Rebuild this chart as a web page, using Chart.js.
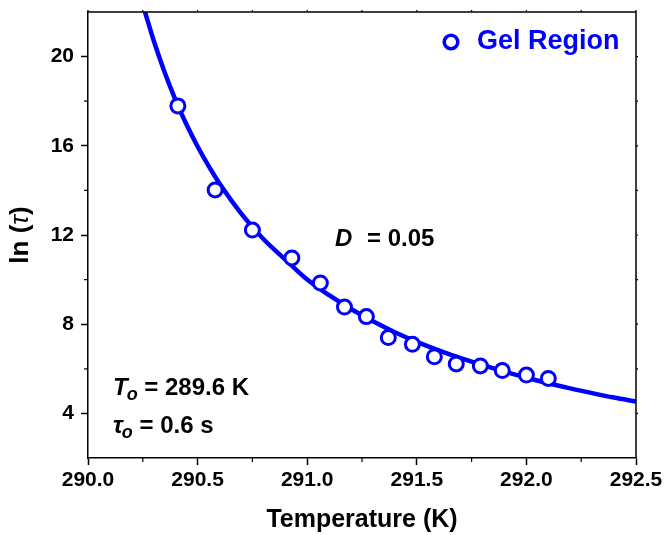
<!DOCTYPE html>
<html>
<head>
<meta charset="utf-8">
<script src="https://cdn.jsdelivr.net/npm/chart.js@4.4.0/dist/chart.umd.min.js"></script>
<style>
  body { margin: 0; background: #fff; }
</style>
</head>
<body>
<canvas id="vftChart" width="664" height="535"></canvas>
<script>
// measured relaxation times, gel region
const tempPoints = [290.41, 290.58, 290.75, 290.93, 291.06, 291.17, 291.27, 291.37, 291.48, 291.58, 291.68, 291.79, 291.89, 292.00, 292.10];
const lnTauPoints = [17.79, 14.02, 12.22, 10.97, 9.85, 8.77, 8.34, 7.40, 7.10, 6.54, 6.22, 6.13, 5.92, 5.72, 5.57];

// fitted curve
const tempCurve = [290.26, 290.30, 290.35, 290.40, 290.45, 290.50, 290.55, 290.60, 290.70, 290.80, 290.90, 291.00, 291.10, 291.20, 291.30, 291.40, 291.50, 291.60, 291.70, 291.80, 291.90, 292.00, 292.10, 292.20, 292.30, 292.40, 292.50];
const lnTauCurve = [22.00, 20.71, 19.29, 18.04, 16.94, 15.97, 15.10, 14.31, 12.95, 11.82, 10.90, 10.00, 9.30, 8.68, 8.13, 7.64, 7.21, 6.83, 6.48, 6.17, 5.87, 5.60, 5.35, 5.12, 4.91, 4.71, 4.53];

// axis ticks
const xTicks = [290.0, 290.5, 291.0, 291.5, 292.0, 292.5];
const xMinorTicks = [290.25, 290.75, 291.25, 291.75, 292.25];
const yTicks = [4, 8, 12, 16, 20];
const yMinorTicks = [6, 10, 14, 18];

const FONT = '"Liberation Sans", Arial, Helvetica, sans-serif';
const BLUE = '#0000ff';

// draws a row of text pieces with different fonts, left to right
function drawRuns(ctx, x, y, runs) {
  let cx = x;
  runs.forEach(r => {
    ctx.font = r.font;
    ctx.fillText(r.text, cx + (r.dx || 0), y + (r.dy || 0));
    cx += ctx.measureText(r.text).width + (r.dx || 0);
  });
  return cx;
}

function runsWidth(ctx, runs) {
  let w = 0;
  runs.forEach(r => { ctx.font = r.font; w += ctx.measureText(r.text).width + (r.dx || 0); });
  return w;
}

const decorPlugin = {
  id: 'decor',
  afterDraw(chart) {
    const ctx = chart.ctx;
    const { left, right, top, bottom } = chart.chartArea;
    const xs = chart.scales.x;
    const ys = chart.scales.y;
    ctx.save();

    // frame top and right
    ctx.strokeStyle = '#000';
    ctx.lineWidth = 1.5;
    ctx.beginPath();
    ctx.moveTo(left, top);
    ctx.lineTo(right, top);
    ctx.lineTo(right, bottom);
    ctx.stroke();

    // minor ticks bottom / left, small ticks top / right
    ctx.lineWidth = 1.2;
    ctx.beginPath();
    xMinorTicks.forEach(v => {
      const px = xs.getPixelForValue(v);
      ctx.moveTo(px, bottom); ctx.lineTo(px, bottom + 4);
    });
    yMinorTicks.forEach(v => {
      const py = ys.getPixelForValue(v);
      ctx.moveTo(left, py); ctx.lineTo(left - 4, py);
    });
    xTicks.concat(xMinorTicks).forEach(v => {
      const px = xs.getPixelForValue(v);
      ctx.moveTo(px, top); ctx.lineTo(px, top - 2);
    });
    yTicks.concat(yMinorTicks).forEach(v => {
      const py = ys.getPixelForValue(v);
      ctx.moveTo(right, py); ctx.lineTo(right + 2, py);
    });
    ctx.stroke();

    // y axis title: ln (tau)
    ctx.fillStyle = '#000';
    ctx.textBaseline = 'middle';
    const yTitle = [
      { text: 'ln (', font: 'bold 26px ' + FONT },
      { text: 'τ', font: 'italic 26px ' + FONT },
      { text: ')', font: 'bold 26px ' + FONT }
    ];
    ctx.save();
    ctx.translate(21, (top + bottom) / 2);
    ctx.rotate(-Math.PI / 2);
    drawRuns(ctx, -runsWidth(ctx, yTitle) / 2, 0, yTitle);
    ctx.restore();

    // legend
    ctx.strokeStyle = BLUE;
    ctx.lineWidth = 3.5;
    ctx.fillStyle = '#fff';
    ctx.beginPath();
    ctx.arc(451, 42, 6.8, 0, Math.PI * 2);
    ctx.fill();
    ctx.stroke();
    ctx.fillStyle = BLUE;
    ctx.font = 'bold 27px ' + FONT;
    ctx.fillText('Gel Region', 477, 42);

    // fit parameters
    ctx.fillStyle = '#000';
    ctx.textBaseline = 'alphabetic';
    ctx.font = 'italic bold 24px ' + FONT;
    ctx.fillText('D', 335, 246);
    ctx.font = 'bold 24px ' + FONT;
    ctx.fillText('= 0.05', 367, 246);

    drawRuns(ctx, 113, 395, [
      { text: 'T', font: 'italic bold 24px ' + FONT },
      { text: 'o', font: 'italic bold 18px ' + FONT, dy: 5, dx: -1 },
      { text: ' = 289.6 K', font: 'bold 24px ' + FONT }
    ]);
    drawRuns(ctx, 113, 433, [
      { text: 'τ', font: 'italic bold 24px ' + FONT },
      { text: 'o', font: 'italic bold 18px ' + FONT, dy: 5, dx: -1 },
      { text: ' = 0.6 s', font: 'bold 24px ' + FONT }
    ]);

    ctx.restore();
  }
};

const ctx = document.getElementById('vftChart').getContext('2d');
new Chart(ctx, {
  type: 'scatter',
  data: {
    datasets: [
      {
        label: 'Gel Region',
        data: tempPoints.map((t, i) => ({ x: t, y: lnTauPoints[i] })),
        pointStyle: 'circle',
        pointRadius: 7,
        pointBorderWidth: 3,
        pointBorderColor: BLUE,
        pointBackgroundColor: '#fff',
        showLine: false
      },
      {
        label: 'Fit',
        data: tempCurve.map((t, i) => ({ x: t, y: lnTauCurve[i] })),
        showLine: true,
        borderColor: BLUE,
        borderWidth: 4.5,
        pointRadius: 0,
        cubicInterpolationMode: 'monotone',
        clip: 0
      }
    ]
  },
  options: {
    responsive: false,
    animation: false,
    layout: { padding: { top: 12, right: 28, left: 0, bottom: 0 } },
    plugins: {
      legend: { display: false },
      tooltip: { enabled: false }
    },
    scales: {
      x: {
        type: 'linear',
        min: 290.0,
        max: 292.5,
        afterBuildTicks: s => { s.ticks = xTicks.map(v => ({ value: v })); },
        afterFit: s => { s.height = 77; s.paddingLeft = 0; s.paddingRight = 0; },
        grid: { drawOnChartArea: false, tickLength: 7, tickWidth: 1.5, tickColor: '#000' },
        border: { display: true, color: '#000', width: 1.5 },
        ticks: {
          color: '#000',
          padding: 3,
          font: { family: FONT, size: 21, weight: 'bold' },
          callback: v => v.toFixed(1)
        },
        title: {
          display: true,
          text: 'Temperature (K)',
          color: '#000',
          font: { family: FONT, size: 25, weight: 'bold' },
          padding: { top: 0, bottom: 0 }
        }
      },
      y: {
        type: 'linear',
        min: 2,
        max: 22,
        afterBuildTicks: s => { s.ticks = yTicks.map(v => ({ value: v })); },
        afterFit: s => { s.width = 88; s.paddingTop = 0; s.paddingBottom = 0; },
        grid: { drawOnChartArea: false, tickLength: 7, tickWidth: 1.5, tickColor: '#000' },
        border: { display: true, color: '#000', width: 1.5 },
        ticks: {
          color: '#000',
          padding: 7,
          font: { family: FONT, size: 21, weight: 'bold' }
        }
      }
    }
  },
  plugins: [decorPlugin]
});
</script>
</body>
</html>
